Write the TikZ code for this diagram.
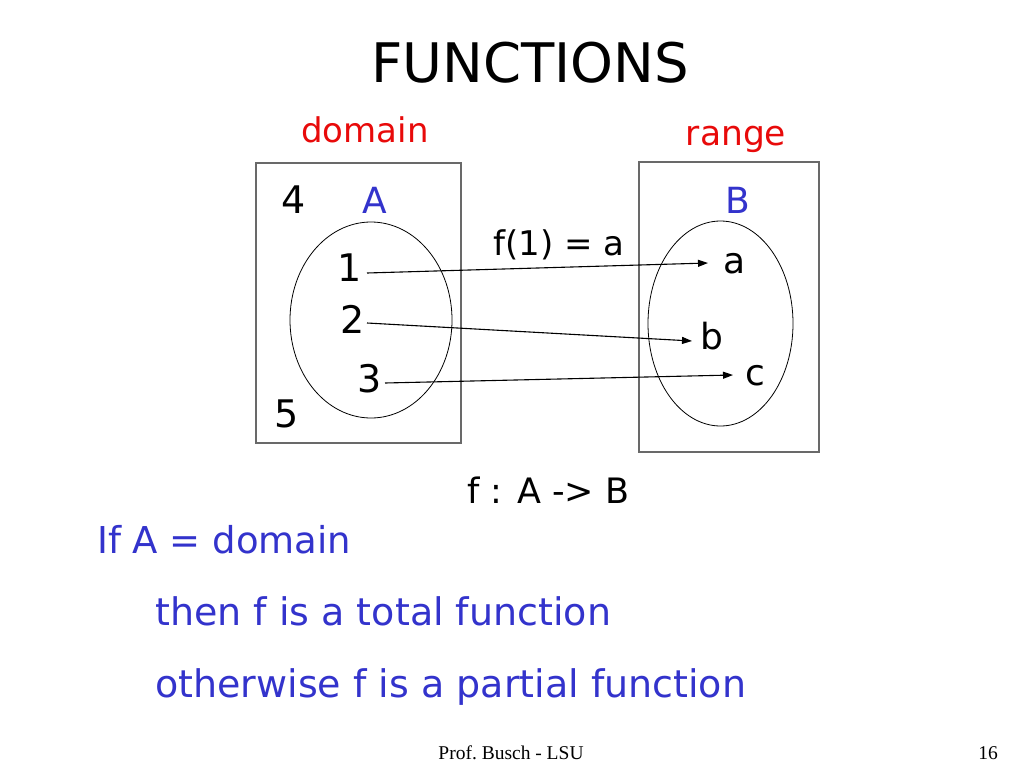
\documentclass[tikz,border=0pt]{standalone}
\usepackage{fontspec}
\setmainfont{DejaVu Sans}
\newfontfamily\footfont{Liberation Serif}
\usetikzlibrary{arrows.meta,shapes.geometric}
\definecolor{txtblue}{RGB}{51,51,204}
\definecolor{txtred}{RGB}{232,10,10}
\definecolor{boxgray}{RGB}{105,105,105}
\begin{document}
\begin{tikzpicture}[x=1pt,y=-1pt,
  fs/.style={font=\fontsize{#1}{#1}\selectfont},
  lbl/.style={inner sep=0pt,anchor=base},
  lblw/.style={inner sep=0pt,anchor=base west},
  setbox/.style={draw=boxgray,line width=1.4pt,inner sep=0pt,rectangle},
  setell/.style={draw=black,line width=0.8pt,inner sep=0pt,ellipse},
  maparrow/.style={draw=black,line width=1.1pt,-{Triangle[length=10pt,width=7pt]}},
  foot/.style={inner sep=0pt,anchor=base,font=\footfont\fontsize{19.5}{19.5}\selectfont}]
\useasboundingbox (0,0) rectangle (1024,768);
\fill[white] (0,0) rectangle (1024,768);

\node[lbl,fs=54.5] (title) at (530,82) {FUNCTIONS};
\node[lbl,fs=34,text=txtred] (domain) at (365,142) {domain};
\node[lbl,fs=34.5,text=txtred] (range) at (736,145) {range};

\node[setbox,minimum width=205pt,minimum height=280pt] (boxA) at (358.5,303) {};
\node[setbox,minimum width=180pt,minimum height=290pt] (boxB) at (729,307) {};
\node[setell,minimum width=162pt,minimum height=196pt] (ellA) at (371,320) {};
\node[setell,minimum width=145pt,minimum height=205pt] (ellB) at (720.5,323.5) {};

\node[lbl,fs=38] (n4) at (294,213) {4};
\node[lbl,fs=36,text=txtblue] (setA) at (375,213) {A};
\node[lbl,fs=36,text=txtblue] (setB) at (738,213) {B};
\node[lbl,fs=38] (n1) at (350,281) {1};
\node[lbl,fs=38] (n2) at (353,333) {2};
\node[lbl,fs=38] (n3) at (370,392) {3};
\node[lbl,fs=38] (n5) at (287,427) {5};
\node[lbl,fs=36] (la) at (735,273) {a};
\node[lbl,fs=36] (lb) at (712,349) {b};
\node[lbl,fs=36] (lc) at (755,385) {c};

\node[lblw,fs=34] (fone) at (493,255) {f(1) = a};

\coordinate (s1) at (367,273);
\coordinate (t1) at (708,263);
\coordinate (s2) at (367,323);
\coordinate (t2) at (692,341);
\coordinate (s3) at (385,383);
\coordinate (t3) at (733,375);
\draw[maparrow] (s1) -- (t1);
\draw[maparrow] (s2) -- (t2);
\draw[maparrow] (s3) -- (t3);

\node[lblw,fs=35] (fmap) at (467,503) {f : A -> B};

\node[lblw,fs=37,text=txtblue] (line1) at (97,553) {If A = domain};
\node[lblw,fs=38,text=txtblue] (line2) at (155,625) {then f is a total function};
\node[lblw,fs=38,text=txtblue] (line3) at (155,697) {otherwise f is a partial function};

\node[foot] (author) at (511,759) {Prof.\ Busch - LSU};
\node[foot] (page) at (988,759) {16};
\end{tikzpicture}
\end{document}
